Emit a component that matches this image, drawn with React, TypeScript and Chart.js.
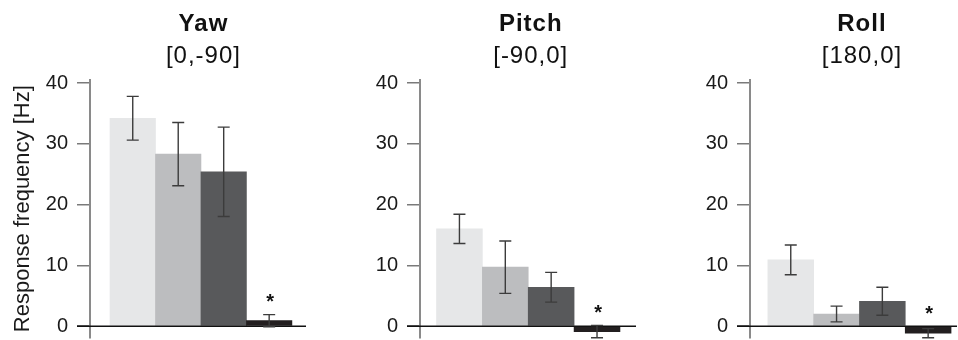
import React, { useEffect, useRef } from 'react';
import { Chart, registerables } from 'chart.js';

Chart.register(...registerables);

// ---- data ----
const panelTitles = ['Yaw', 'Pitch', 'Roll'];
const panelSubtitles = ['[0,-90]', '[-90,0]', '[180,0]'];
const conditions = ['Condition 1', 'Condition 2', 'Condition 3', 'Condition 4'];
const barColors = ['#e6e7e8', '#bcbdbf', '#58595b', '#231f20'];

const yawMeans = [34.2, 28.3, 25.4, 0.9];
const yawErrors = [3.6, 5.2, 7.35, 1.0];
const pitchMeans = [16.0, 9.7, 6.4, -0.9];
const pitchErrors = [2.4, 4.3, 2.45, 1.0];
const rollMeans = [10.9, 2.0, 4.1, -1.15];
const rollErrors = [2.45, 1.3, 2.3, 0.75];

const significant = [false, false, false, true];
const yTicks = [0, 10, 20, 30, 40];
const yAxisTitle = 'Response frequency [Hz]';

const FONT = "'Liberation Sans', Arial, Helvetica, sans-serif";

// ---- layout (pixels) ----
const layouts = [
  { left: 0, width: 320, axisW: 90, padRight: 14, xMin: -0.94, xMax: 3.81, showTitle: true },
  { left: 320, width: 320, axisW: 100, padRight: 4, xMin: -0.86, xMax: 3.85, showTitle: false },
  { left: 640, width: 318, axisW: 110, padRight: 1, xMin: -0.89, xMax: 3.63, showTitle: false },
];

const overlayPlugin = {
  id: 'overlay',
  afterDatasetsDraw(chart: any, _args: any, opts: any) {
    const { ctx, chartArea } = chart;
    const x = chart.scales.x;
    const y = chart.scales.y;
    const meta = chart.getDatasetMeta(0);
    const zero = y.getPixelForValue(0);
    ctx.save();
    // baseline
    ctx.strokeStyle = '#111';
    ctx.lineWidth = 1.5;
    ctx.beginPath();
    ctx.moveTo(chartArea.left - 13, zero);
    ctx.lineTo(chartArea.right, zero);
    ctx.stroke();
    // error bars
    ctx.strokeStyle = '#3c3c3c';
    ctx.lineWidth = 1.4;
    const cap = 6;
    opts.means.forEach((m: number, i: number) => {
      const e = opts.errors[i];
      const bx = meta.data[i].x;
      const t = y.getPixelForValue(m + e);
      const b = y.getPixelForValue(m - e);
      ctx.beginPath();
      ctx.moveTo(bx, t);
      ctx.lineTo(bx, b);
      ctx.moveTo(bx - cap, t);
      ctx.lineTo(bx + cap, t);
      ctx.moveTo(bx - cap, b);
      ctx.lineTo(bx + cap, b);
      ctx.stroke();
      if (opts.stars[i]) {
        const sy = y.getPixelForValue(Math.max(m + e, 0)) - 15;
        ctx.fillStyle = '#111';
        ctx.font = `bold 20px ${FONT}`;
        ctx.textAlign = 'center';
        ctx.textBaseline = 'middle';
        ctx.fillText('*', bx + 1, sy + 3);
      }
    });
    // titles
    const cx = x.getPixelForValue(1.5) + 2.5;
    ctx.fillStyle = '#111';
    ctx.textAlign = 'center';
    ctx.textBaseline = 'alphabetic';
    try {
      (ctx as any).letterSpacing = '1px';
    } catch (e) {
      /* ignore */
    }
    ctx.font = `bold 24px ${FONT}`;
    ctx.fillText(opts.title, cx, 31);
    ctx.font = `24px ${FONT}`;
    ctx.fillText(opts.subtitle, cx, 63);
    try {
      (ctx as any).letterSpacing = '0px';
    } catch (e) {
      /* ignore */
    }
    ctx.restore();
  },
};

function Panel({ idx, means, errors }: { idx: number; means: number[]; errors: number[] }) {
  const ref = useRef<HTMLCanvasElement | null>(null);
  const L = layouts[idx];
  useEffect(() => {
    if (!ref.current) return;
    const chart = new Chart(ref.current, {
      type: 'bar',
      data: {
        labels: conditions,
        datasets: [
          {
            label: panelTitles[idx],
            data: means.map((v, i) => ({ x: i, y: v })),
            backgroundColor: barColors,
            borderWidth: 0,
            barPercentage: 1,
            categoryPercentage: 1,
          },
        ],
      },
      options: {
        responsive: false,
        animation: false,
        layout: { padding: { left: 0, right: L.padRight, top: 80, bottom: 2.6 } },
        plugins: {
          legend: { display: false },
          tooltip: { enabled: false },
          title: { display: false },
          overlay: {
            means,
            errors,
            stars: significant,
            title: panelTitles[idx],
            subtitle: panelSubtitles[idx],
          },
        } as any,
        scales: {
          x: {
            type: 'linear',
            min: L.xMin,
            max: L.xMax,
            offset: false,
            bounds: 'data',
            display: false,
            grid: { offset: false },
            afterBuildTicks: (s: any) => {
              s.ticks = conditions.map((_c, i) => ({ value: i }));
            },
          },
          y: {
            min: -1.85,
            max: 40.5,
            afterBuildTicks: (s: any) => {
              s.ticks = yTicks.map((v) => ({ value: v }));
            },
            afterFit: (s: any) => {
              s.width = L.axisW;
              s.paddingTop = 0;
              s.paddingBottom = 0;
            },
            grid: {
              drawOnChartArea: false,
              drawTicks: true,
              tickLength: 13,
              color: '#7a7a7a',
              lineWidth: 1.5,
            },
            border: { display: true, color: '#8a8a8a', width: 2 },
            ticks: {
              padding: 9,
              color: '#1a1a1a',
              font: { family: FONT, size: 20 },
            },
            title: {
              display: L.showTitle,
              text: yAxisTitle,
              color: '#1a1a1a',
              font: { family: FONT, size: 22 },
              padding: { top: 10, bottom: 0 },
            },
          },
        },
      },
      plugins: [overlayPlugin],
    } as any);
    return () => chart.destroy();
  }, []);
  return (
    <canvas
      ref={ref}
      width={L.width}
      height={340}
      style={{ position: 'absolute', left: L.left, top: 0, width: L.width, height: 340, display: 'block' }}
    />
  );
}

export default function App() {
  return (
    <div style={{ position: 'absolute', left: 0, top: 0, width: 958, height: 340, background: '#fff' }}>
      <Panel idx={0} means={yawMeans} errors={yawErrors} />
      <Panel idx={1} means={pitchMeans} errors={pitchErrors} />
      <Panel idx={2} means={rollMeans} errors={rollErrors} />
    </div>
  );
}
